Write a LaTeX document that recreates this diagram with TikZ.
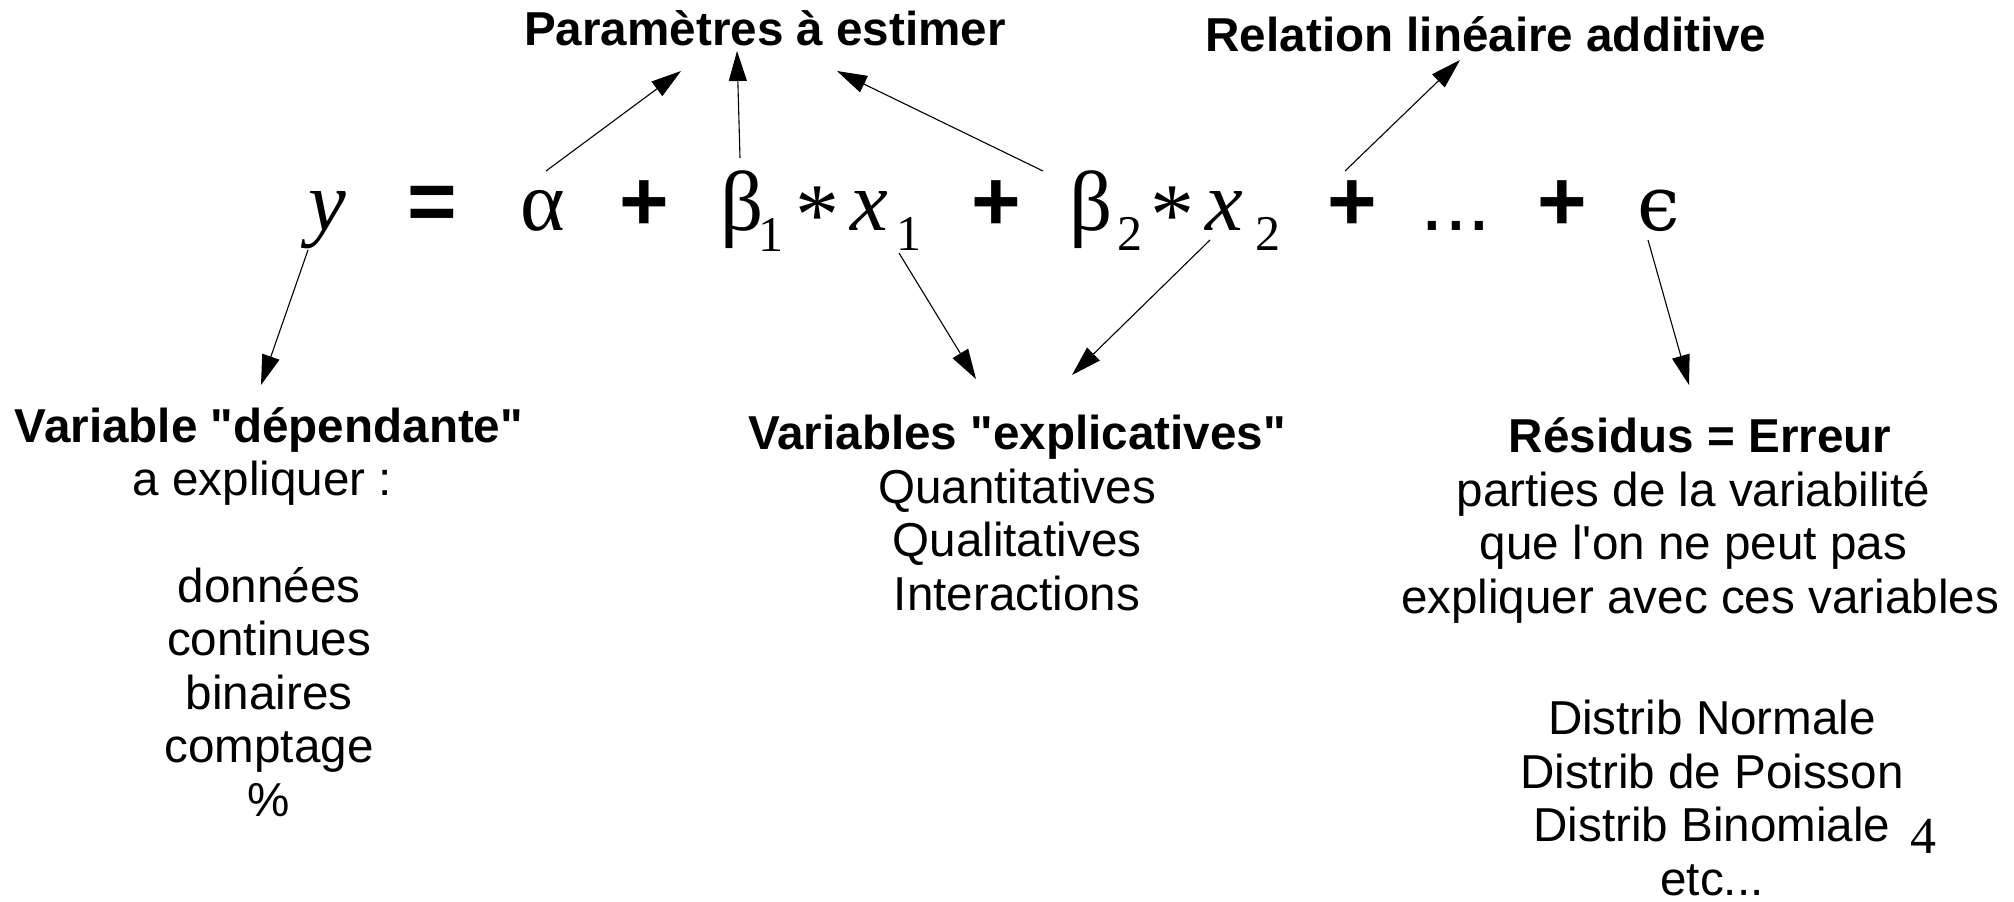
\documentclass[tikz,border=0pt]{standalone}
\usepackage{fontspec}
\setmainfont{Liberation Sans}[Ligatures=TeXOff]
\newfontfamily\eqfont{Liberation Serif}
\newfontfamily\epsfont{DejaVu Serif}
\usetikzlibrary{arrows.meta}

\begin{document}
\begin{tikzpicture}[
      x=0.5pt, y=-0.5pt,
      every node/.style={inner sep=0pt, outer sep=0pt},
      txt/.style={align=center, anchor=base, font=\fontsize{23.8pt}{26.7pt}\selectfont},
      title/.style={anchor=base, font=\fontsize{23.8pt}{26.7pt}\selectfont\bfseries},
      sym/.style={anchor=base, font=\fontsize{42.5pt}{50pt}\selectfont\eqfont},
      op/.style={anchor=base, font=\fontsize{42.5pt}{50pt}\selectfont\bfseries},
      arr/.style={-{Triangle[length=15pt, width=9pt]}, line width=0.55pt}
    ]
    \useasboundingbox (0,0) rectangle (2014,901);

    % the model
    \node[sym] (yvar) at (327,230) {\itshape y};
    \node[op] (eq) at (432,230) {=};
    \node[sym] (alpha) at (543,230) {α};
    \node[op] (plusA) at (644,230) {+};
    \node[sym] (beta1) at (752,230) {β\kern-2.7pt\raisebox{-10.5pt}{\fontsize{25pt}{25pt}\selectfont 1}};
    \node[sym] (ast1) at (817,230) {\fontsize{44pt}{44pt}\selectfont\raisebox{-7pt}{*}};
    \node[sym] (x1) at (886,230) {{\itshape x}\kern4.2pt\raisebox{-10pt}{\fontsize{25pt}{25pt}\selectfont 1}};
    \node[op] (plusB) at (996,230) {+};
    \node[sym] (beta2) at (1106,230) {β\kern2.2pt\raisebox{-10pt}{\fontsize{25pt}{25pt}\selectfont 2}};
    \node[sym] (ast2) at (1172,230) {\fontsize{44pt}{44pt}\selectfont\raisebox{-7pt}{*}};
    \node[sym] (x2) at (1243,230) {{\itshape x}\kern5.7pt\raisebox{-10pt}{\fontsize{25pt}{25pt}\selectfont 2}};
    \node[op] (plusC) at (1352,230) {+};
    \node[op, font=\fontsize{42.5pt}{50pt}\selectfont] (dots) at (1456,230) {...};
    \node[op] (plusD) at (1562,230) {+};
    \node[sym] (eps) at (1659,230) {\epsfont\fontsize{38pt}{40pt}\selectfont ϵ};

    % labels (base = last line)
    \node[title] (param) at (765,45) {Paramètres à estimer};
    \node[title] (relation) at (1486,51) {Relation linéaire additive};
    \node[txt] (dep) at (269,816) {\textbf{Variable "dépendante"}\\a expliquer :\ \mbox{}\\[26.7pt]données\\continues\\binaires\\comptage\\\%};
    \node[txt] (expl) at (1017,610) {\textbf{Variables "explicatives"}\\Quantitatives\\Qualitatives\\Interactions};
    \node[txt] (resid) at (1700,613) {\textbf{Résidus = Erreur}\\parties de la variabilité\ \mbox{}\\que l'on ne peut pas\ \mbox{}\\expliquer avec ces variables};
    \node[txt] (distrib) at (1712,895) {Distrib Normale\\Distrib de Poisson\\Distrib Binomiale\\etc...};
    \node[anchor=base, font=\fontsize{26pt}{26pt}\selectfont\eqfont] (page) at (1923,853) {4};

    \draw[arr] ([shift={(3,-59)}]alpha.base) -- ([shift={(-84,26)}]param.base);
    \draw[arr] ([shift={(-12,-72)}]beta1.base) -- ([shift={(-28,6)}]param.base);
    \draw[arr] ([shift={(-63,-59)}]beta2.base) -- ([shift={(72,26)}]param.base);
    \draw[arr] ([shift={(-7,-59)}]plusC.base) -- ([shift={(-26,9)}]relation.base);
    \draw[arr] ([shift={(-19,20)}]yvar.base) -- ([shift={(-8,-431)}]dep.base);
    \draw[arr] ([shift={(13,23)}]x1.base) -- ([shift={(-41,-231)}]expl.base);
    \draw[arr] ([shift={(-33,10)}]x2.base) -- ([shift={(55,-235)}]expl.base);
    \draw[arr] ([shift={(-11,10)}]eps.base) -- ([shift={(-11,-228)}]resid.base);
  \end{tikzpicture}
\end{document}
